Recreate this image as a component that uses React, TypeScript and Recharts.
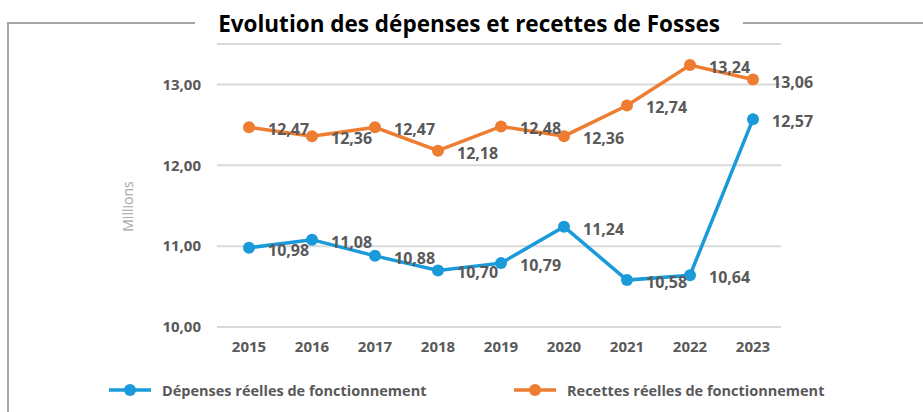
import React from "react";
import { LineChart, Line, XAxis, YAxis, CartesianGrid, Legend, LabelList } from "recharts";

const years = ["2015", "2016", "2017", "2018", "2019", "2020", "2021", "2022", "2023"];
const depenses = [10.98, 11.08, 10.88, 10.7, 10.79, 11.24, 10.58, 10.64, 12.57];
const recettes = [12.47, 12.36, 12.47, 12.18, 12.48, 12.36, 12.74, 13.24, 13.06];
const yTicks = [10, 11, 12, 13];

const BLUE = "#1a9ad9";
const ORANGE = "#ee7d31";
const TEXT = "#595959";
const FONT = "'Open Sans', sans-serif";

const data = years.map((year, i) => ({ year, depenses: depenses[i], recettes: recettes[i] }));

const fmt = (v: number) => v.toFixed(2).replace(".", ",");

const ValueLabel = (props: any) => {
    const { x, y, value } = props;
    return (
        <text x={x + 19} y={y + 2} dominantBaseline="central" fill={TEXT} fontSize={16} fontWeight={700} fontFamily={FONT}>
            {fmt(value)}
        </text>
    );
};

// rotated axis title, a bit below the plot's middle like the original
const UnitLabel = (props: any) => {
    const { viewBox } = props;
    const cx = 127;
    const cy = viewBox.y + viewBox.height / 2 + 21;
    return (
        <text x={cx} y={cy} transform={`rotate(-90, ${cx}, ${cy})`} textAnchor="middle" dominantBaseline="central"
            fill="#a6a6a6" fontSize={14} fontFamily={FONT}>
            Millions
        </text>
    );
};

const legendItems = [
    { name: "Dépenses réelles de fonctionnement", color: BLUE, x: 109 },
    { name: "Recettes réelles de fonctionnement", color: ORANGE, x: 514 },
];

const LegendContent = () => (
    <div style={{ position: "relative", width: 923, height: 20 }}>
        {legendItems.map((item) => (
            <div key={item.name} style={{ position: "absolute", left: item.x, top: 0, height: 20, display: "flex", alignItems: "center" }}>
                <svg width={42} height={14}>
                    <line x1={0} y1={7} x2={42} y2={7} stroke={item.color} strokeWidth={3.5} />
                    <circle cx={21} cy={7} r={6} fill={item.color} />
                </svg>
                <span style={{ marginLeft: 11, fontFamily: FONT, fontSize: 14.5, fontWeight: 700, color: TEXT, whiteSpace: "nowrap" }}>
                    {item.name}
                </span>
            </div>
        ))}
    </div>
);

export default function App() {
    return (
        <div style={{ position: "absolute", left: 0, top: 0, width: 923, height: 412, background: "#fff", overflow: "hidden" }}>
            {/* frame */}
            <div style={{ position: "absolute", left: 7, top: 22, width: 940, height: 420, borderTop: "2px solid #a6a6a6", borderLeft: "2px solid #a6a6a6" }} />
            <div
                style={{
                    position: "absolute", left: 195, top: 9, width: 548, height: 30, lineHeight: "30px",
                    background: "#fff", textAlign: "center", fontFamily: FONT, fontWeight: 700,
                    fontSize: 22.5, color: "#000", whiteSpace: "nowrap",
                }}
            >
                Evolution des dépenses et recettes de Fosses
            </div>
            <div style={{ position: "absolute", left: 0, top: 0 }}>
                <LineChart width={923} height={412} data={data} margin={{ top: 44, right: 142, left: 0, bottom: 35 }}>
                    <CartesianGrid vertical={false} stroke="#d9d9d9" strokeWidth={2} />
                    <XAxis
                        dataKey="year"
                        axisLine={false}
                        tickLine={false}
                        tickSize={0}
                        tickMargin={14}
                        height={30}
                        padding={{ left: 32, right: 28 }}
                        tick={{ fill: TEXT, fontSize: 15, fontWeight: 700, fontFamily: FONT }}
                    />
                    <YAxis
                        width={217}
                        domain={[10, 13.5]}
                        ticks={yTicks}
                        axisLine={false}
                        tickLine={false}
                        tickSize={0}
                        tickMargin={16}
                        tickFormatter={fmt}
                        tick={{ fill: TEXT, fontSize: 15, fontWeight: 700, fontFamily: FONT }}
                        label={<UnitLabel />}
                    />
                    <Legend verticalAlign="bottom" content={LegendContent} wrapperStyle={{ top: 380, left: 0 }} />
                    <Line
                        dataKey="depenses"
                        name="Dépenses réelles de fonctionnement"
                        stroke={BLUE}
                        strokeWidth={3.5}
                        dot={{ r: 6, fill: BLUE, stroke: BLUE, strokeWidth: 0 }}
                        isAnimationActive={false}
                    >
                        <LabelList dataKey="depenses" content={ValueLabel} />
                    </Line>
                    <Line
                        dataKey="recettes"
                        name="Recettes réelles de fonctionnement"
                        stroke={ORANGE}
                        strokeWidth={3.5}
                        dot={{ r: 6, fill: ORANGE, stroke: ORANGE, strokeWidth: 0 }}
                        isAnimationActive={false}
                    >
                        <LabelList dataKey="recettes" content={ValueLabel} />
                    </Line>
                </LineChart>
            </div>
        </div>
    );
}
